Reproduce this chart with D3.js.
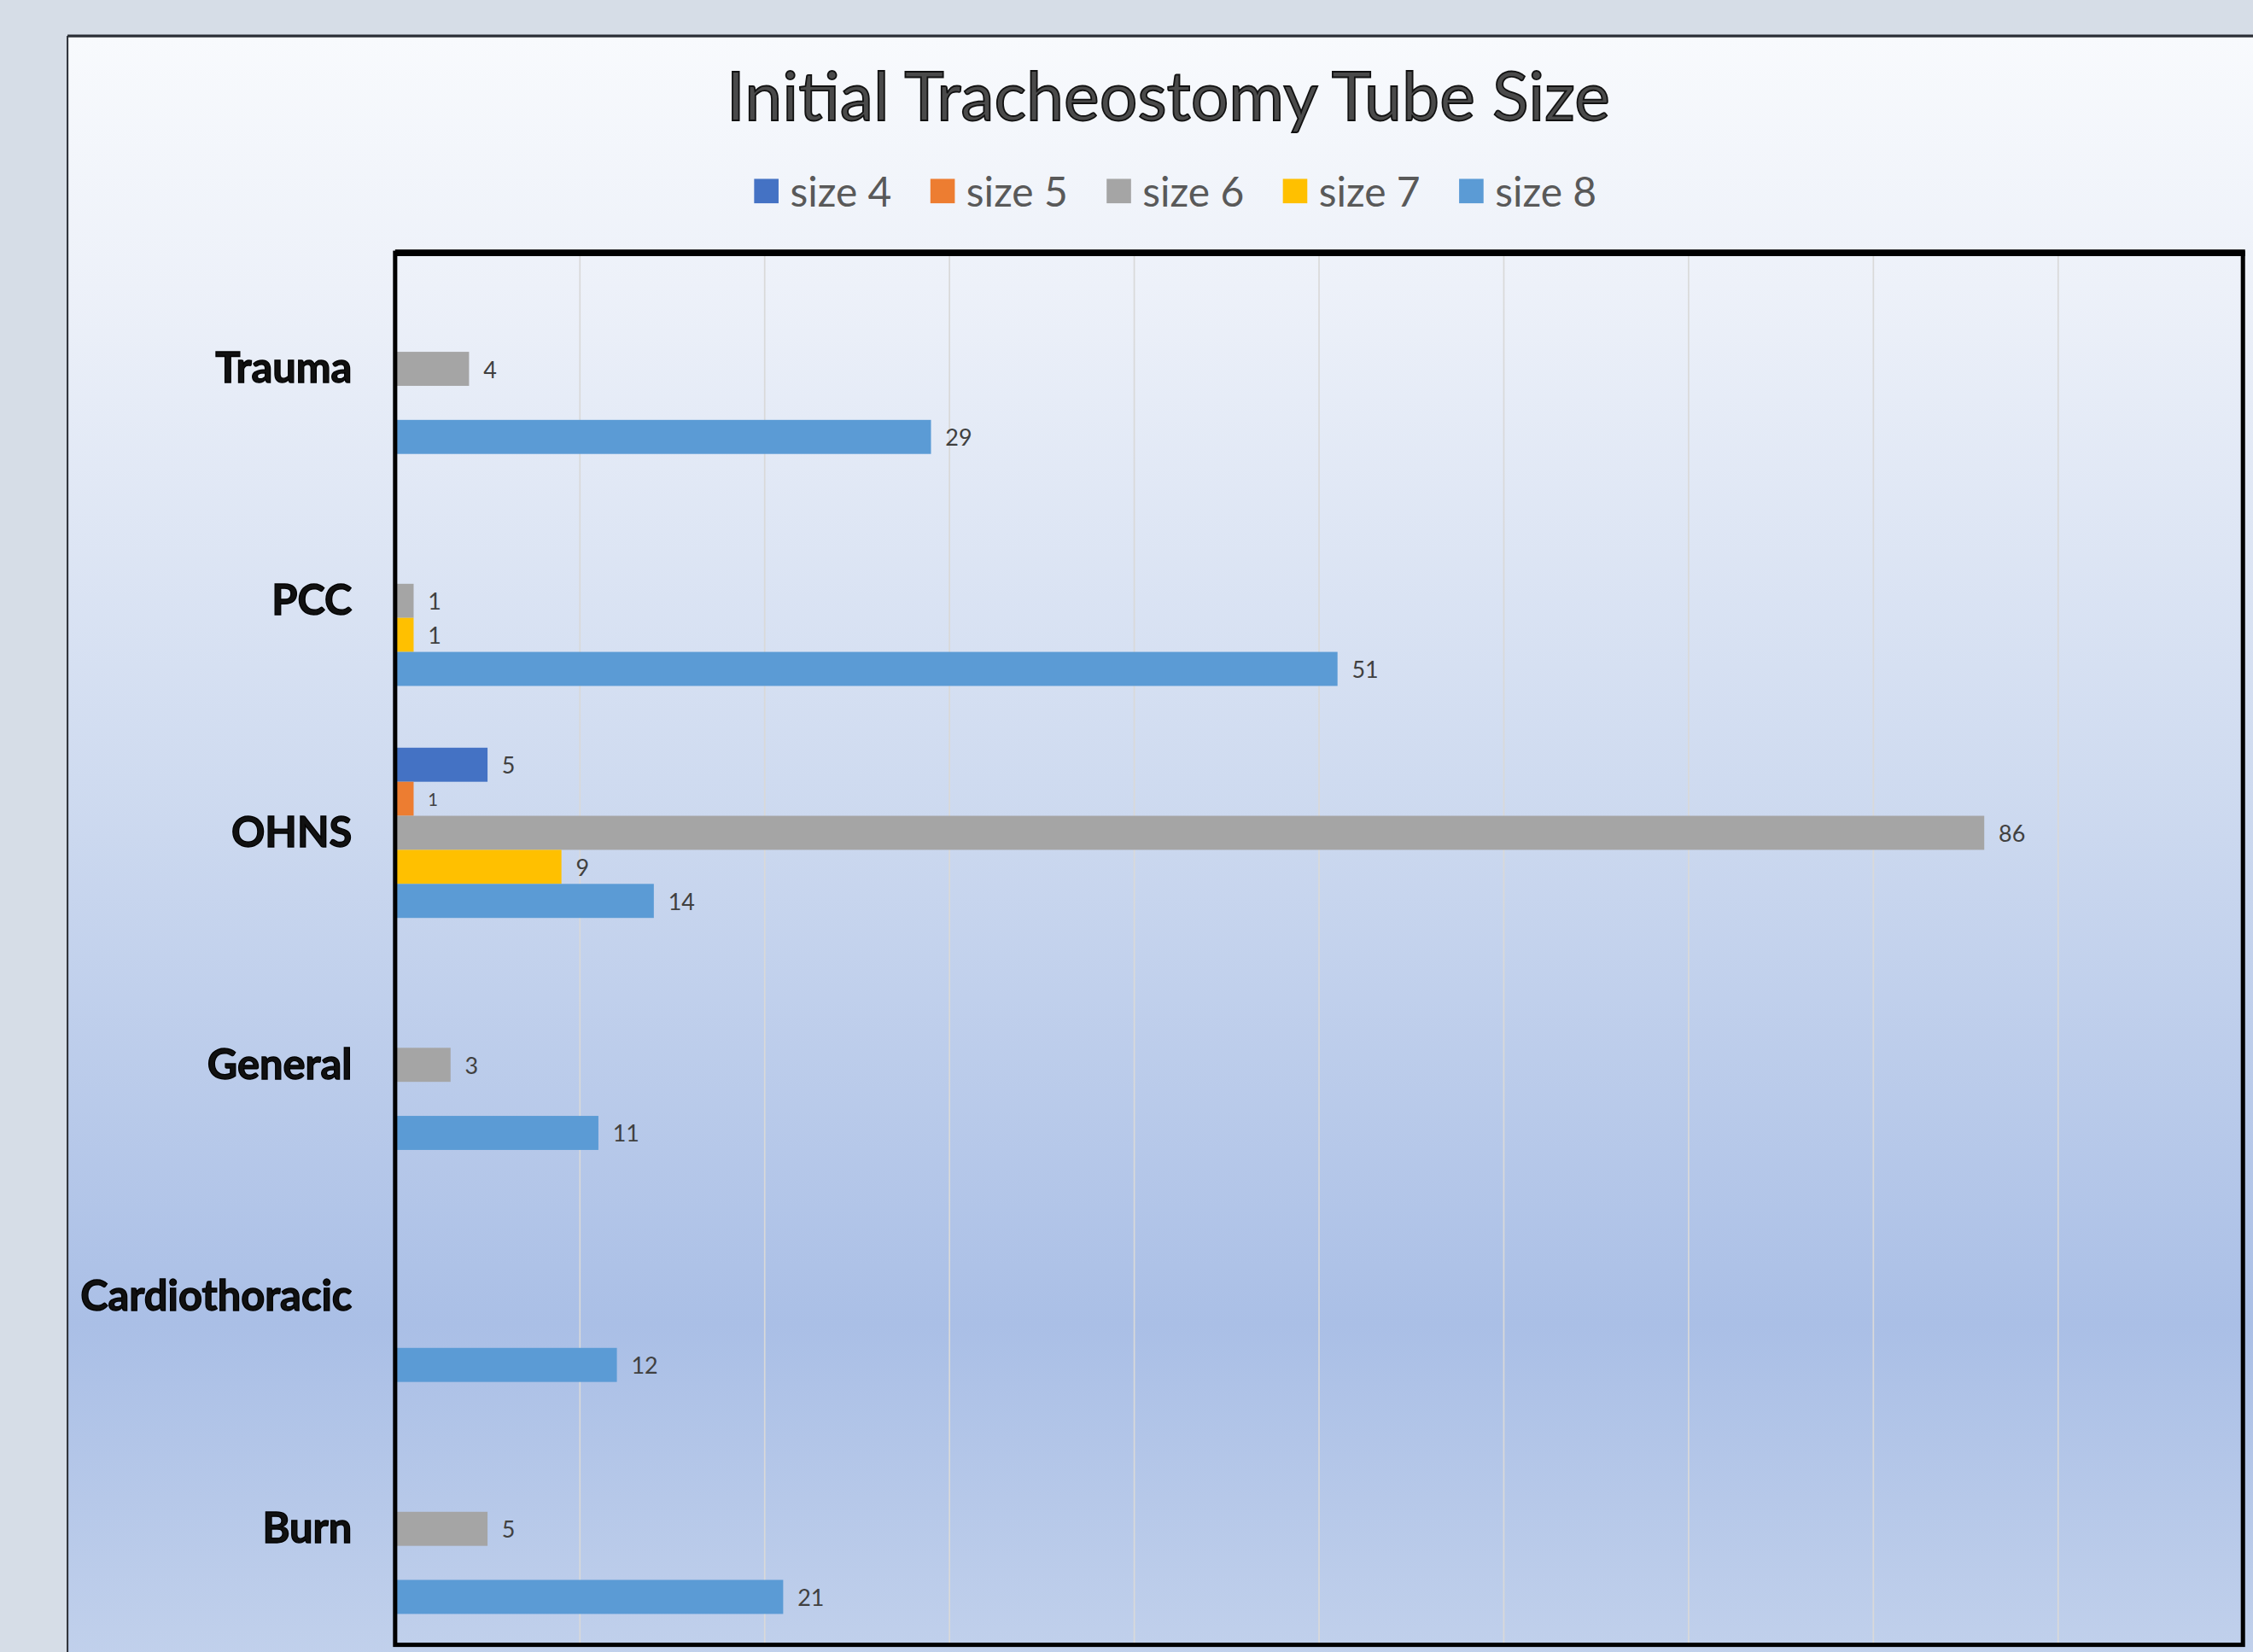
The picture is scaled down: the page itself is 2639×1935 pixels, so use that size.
<!DOCTYPE html>
<html>
<head>
<meta charset="utf-8">
<script src="https://cdn.jsdelivr.net/npm/d3@7"></script>
<style>
  html, body { margin: 0; padding: 0; background: #d6dde7; }
  svg { display: block; }
</style>
</head>
<body>
<div id="chart"></div>
<script>
const categories = ["Trauma", "PCC", "OHNS", "General", "Cardiothoracic", "Burn"];
const seriesNames = ["size 4", "size 5", "size 6", "size 7", "size 8"];
const size4 = [null, null, 5, null, null, null];
const size5 = [null, null, 1, null, null, null];
const size6 = [4, 1, 86, 3, null, 5];
const size7 = [null, 1, 9, null, null, null];
const size8 = [29, 51, 14, 11, 12, 21];
const xTicks = [0, 10, 20, 30, 40, 50, 60, 70, 80, 90, 100];
const colors = ["#4472c4", "#ed7d31", "#a5a5a5", "#ffc000", "#5b9bd5"];

const seriesValues = [size4, size5, size6, size7, size8];
const bars = [];
categories.forEach((c, i) => {
	seriesNames.forEach((s, j) => {
		if (seriesValues[j][i] !== null) bars.push({ cat: c, series: s, value: seriesValues[j][i] });
	});
});

// drawing in the reference's preview units, scaled up by the viewBox
const W = 1568, H = 1150;
const svg = d3.select("#chart").append("svg")
	.attr("width", 2639)
	.attr("height", 1935)
	.attr("viewBox", "0 0 " + W + " " + H)
	.attr("preserveAspectRatio", "none");

const grad = svg.append("defs").append("linearGradient")
	.attr("id", "bg").attr("x1", 0).attr("y1", 0).attr("x2", 0).attr("y2", 1);
[[0, "#f8fafd"], [0.15, "#edf1f9"], [0.45, "#cfdbf0"], [0.78, "#aabfe6"], [1, "#c3d2ec"]].forEach(s => {
	grad.append("stop").attr("offset", s[0]).attr("stop-color", s[1]);
});

// outer chart frame
svg.append("rect").attr("x", 47).attr("y", 25).attr("width", W).attr("height", H)
	.style("fill", "url(#bg)");
svg.append("line").attr("x1", 47).attr("x2", W).attr("y1", 25).attr("y2", 25)
	.style("stroke", "#2b2f36").style("stroke-width", 2);
svg.append("line").attr("x1", 47).attr("x2", 47).attr("y1", 25).attr("y2", H)
	.style("stroke", "#2b2f36").style("stroke-width", 1.2);

const plotLeft = 275, plotRight = 1561, plotTop = 176, plotBottom = 1145;
const xs = d3.scaleLinear().domain([0, 100]).range([plotLeft, plotRight]);
const ys = d3.scaleBand().domain(categories).range([plotTop, plotBottom]);
const inner = d3.scaleBand().domain(seriesNames).range([0, ys.bandwidth()]).paddingOuter(0.907);
const color = d3.scaleOrdinal().domain(seriesNames).range(colors);

// gridlines
svg.append("g").selectAll("line")
	.data(xTicks.slice(1, -1)).enter().append("line")
		.attr("x1", d => xs(d)).attr("x2", d => xs(d))
		.attr("y1", plotTop).attr("y2", plotBottom)
		.style("stroke", "#d9d9d9").style("stroke-width", 1);

// bars
svg.append("g").selectAll("rect")
	.data(bars).enter().append("rect")
		.attr("x", xs(0))
		.attr("y", d => ys(d.cat) + inner(d.series))
		.attr("width", d => xs(d.value) - xs(0))
		.attr("height", inner.bandwidth())
		.style("fill", d => color(d.series));

// data labels
svg.append("g").selectAll("text")
	.data(bars).enter().append("text")
		.attr("x", d => xs(d.value) + 10)
		.attr("y", d => ys(d.cat) + inner(d.series) + inner.bandwidth() / 2)
		.attr("dominant-baseline", "central")
		.style("font-family", "Lato, 'Open Sans', sans-serif")
		.style("font-size", d => d.series === "size 5" ? "12px" : "16px")
		.style("fill", "#404040")
		.text(d => d.value);

// plot area border
svg.append("rect").attr("x", plotLeft).attr("y", plotTop)
	.attr("width", plotRight - plotLeft).attr("height", plotBottom - plotTop)
	.style("fill", "none").style("stroke", "#000").style("stroke-width", 3);
svg.append("line").attr("x1", plotLeft).attr("x2", plotRight + 1.5).attr("y1", plotTop).attr("y2", plotTop)
	.style("stroke", "#000").style("stroke-width", 4.5);
svg.append("line").attr("x1", plotLeft).attr("x2", plotLeft).attr("y1", plotTop).attr("y2", plotBottom)
	.style("stroke", "#000").style("stroke-width", 2);

// category labels
svg.append("g").selectAll("text")
	.data(categories).enter().append("text")
		.attr("x", 245)
		.attr("y", d => ys(d) + ys.bandwidth() / 2 - 1.5)
		.attr("text-anchor", "end")
		.attr("dominant-baseline", "central")
		.style("font-family", "Lato, 'Open Sans', sans-serif")
		.style("font-weight", "bold")
		.style("font-size", "29px")
		.style("fill", "#111")
		.style("stroke", "#000")
		.style("stroke-width", 0.8)
		.text(d => d);

// title
const title = svg.append("text")
	.attr("x", 813).attr("y", 84)
	.attr("text-anchor", "middle")
	.style("font-family", "Lato, 'Open Sans', sans-serif")
	.style("font-size", "44px")
	.style("fill", "#4a4a4a")
	.style("stroke", "#111")
	.style("stroke-width", 1.1)
	.text("Initial Tracheostomy Tube Size");
const tw = title.node().getComputedTextLength();
title.style("font-size", (44 * 615 / tw) + "px");

// legend
const legend = svg.append("g");
let lx = 0;
seriesNames.forEach(s => {
	const g = legend.append("g").attr("transform", "translate(" + lx + ",0)");
	g.append("rect").attr("x", 0).attr("y", -8.5).attr("width", 17).attr("height", 17)
		.style("fill", color(s));
	const t = g.append("text").attr("x", 25).attr("y", 0)
		.attr("dominant-baseline", "central")
		.style("font-family", "Lato, 'Open Sans', sans-serif")
		.style("font-size", "28.5px")
		.style("fill", "#595959")
		.text(s);
	lx += 25 + t.node().getComputedTextLength() + 27;
});
lx -= 27;
legend.attr("transform", "translate(" + (818 - lx / 2) + ",133)");
</script>
</body>
</html>
